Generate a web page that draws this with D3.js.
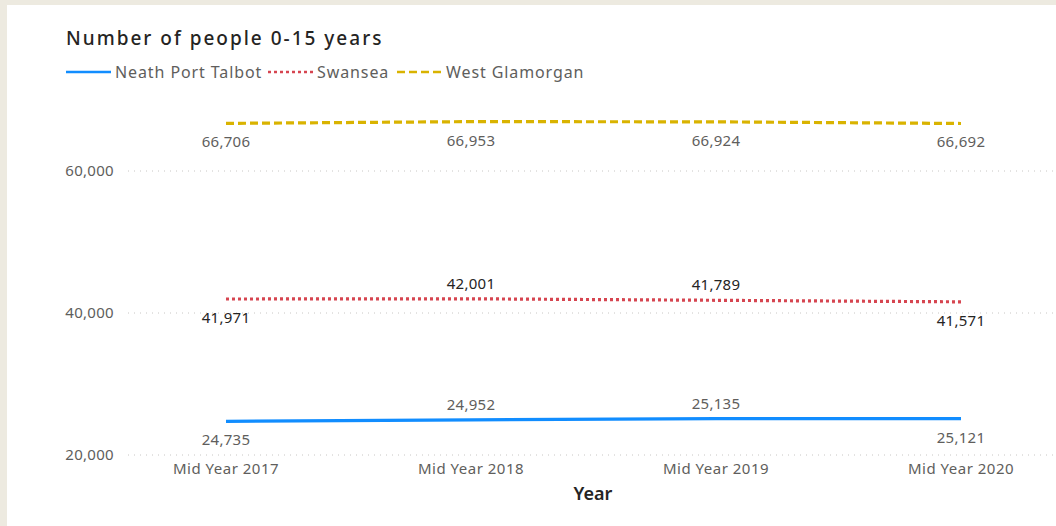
<!DOCTYPE html>
<html lang="en">
<head>
  <meta charset="utf-8">
  <title>Number of people 0-15 years</title>
  <script src="https://d3js.org/d3.v7.min.js"></script>
</head>
<style>
  body { margin: 0; background: #edeae0; }
  .card { position: absolute; left: 7px; top: 5px; width: 1049px; height: 521px; background: #fff; }
  svg { position: absolute; left: 0; top: 0; }
  text { font-family: "Noto Sans", sans-serif; }
</style>
<body>
  <div class="card"></div>
  <div class="chart"></div>
</body>
<script>
var years = ["Mid Year 2017", "Mid Year 2018", "Mid Year 2019", "Mid Year 2020"];
var neath = [24735, 24952, 25135, 25121];
var swansea = [41971, 42001, 41789, 41571];
var westGlam = [66706, 66953, 66924, 66692];
var yTicks = [20000, 40000, 60000];

// label above (-1) or below (+1) the point
var neathPos = [1, -1, -1, 1];
var swanseaPos = [1, -1, -1, 1];
var westGlamPos = [1, 1, 1, 1];

var series = [
  { name: "Neath Port Talbot", values: neath, pos: neathPos, color: "#118DFF", dash: null, labelColor: "#605e5c" },
  { name: "Swansea", values: swansea, pos: swanseaPos, color: "#D64550", dash: "3,3", labelColor: "#252423" },
  { name: "West Glamorgan", values: westGlam, pos: westGlamPos, color: "#D9B300", dash: "8,4", labelColor: "#605e5c" }
];

var W = 1056, H = 526;
var svg = d3.select(".chart").append("svg")
  .attr("width", W)
  .attr("height", H);

var x = d3.scalePoint().domain(years).range([226, 961]);
var y = d3.scaleLinear().domain([20000, 60000]).range([455, 171]);

// title
svg.append("text")
  .attr("x", 66)
  .attr("y", 45)
  .attr("fill", "#252423")
  .style("font-size", "19px")
  .style("font-weight", 500)
  .style("letter-spacing", "2px")
  .text("Number of people 0-15 years");

// legend
var legendX = [66, 268, 397];
var legend = svg.selectAll(".legend")
  .data(series)
  .enter().append("g")
  .attr("class", "legend")
  .attr("transform", function(d, i) { return "translate(" + legendX[i] + ",72)"; });

legend.append("line")
  .attr("x1", 0).attr("x2", 45)
  .attr("stroke", function(d) { return d.color; })
  .attr("stroke-width", 2.5)
  .attr("stroke-dasharray", function(d) { return d.dash; });

legend.append("text")
  .attr("x", 49)
  .attr("dy", "0.35em")
  .attr("fill", "#605e5c")
  .style("font-size", "16px")
  .style("letter-spacing", "0.9px")
  .text(function(d) { return d.name; });

// gridlines + y axis labels
svg.selectAll(".grid")
  .data(yTicks)
  .enter().append("line")
  .attr("class", "grid")
  .attr("x1", 128).attr("x2", 1054)
  .attr("y1", function(d) { return y(d); })
  .attr("y2", function(d) { return y(d); })
  .attr("stroke", "#c8c6c4")
  .attr("stroke-width", 1)
  .attr("stroke-dasharray", "1,5");

svg.selectAll(".ylab")
  .data(yTicks)
  .enter().append("text")
  .attr("class", "ylab")
  .attr("x", 114)
  .attr("y", function(d) { return y(d); })
  .attr("dy", "0.35em")
  .attr("text-anchor", "end")
  .attr("fill", "#605e5c")
  .style("font-size", "15px")
  .style("letter-spacing", "0.3px")
  .text(d3.format(","));

// x axis labels
svg.selectAll(".xlab")
  .data(years)
  .enter().append("text")
  .attr("class", "xlab")
  .attr("x", function(d) { return x(d); })
  .attr("y", 474)
  .attr("text-anchor", "middle")
  .attr("fill", "#605e5c")
  .style("font-size", "15px")
  .style("letter-spacing", "0.5px")
  .text(function(d) { return d; });

svg.append("text")
  .attr("x", 593)
  .attr("y", 500)
  .attr("text-anchor", "middle")
  .attr("fill", "#252423")
  .style("font-size", "18px")
  .style("font-weight", 600)
  .text("Year");

// lines
var line = d3.line()
  .x(function(d, i) { return x(years[i]); })
  .y(function(d) { return y(d); });

svg.selectAll(".series")
  .data(series)
  .enter().append("path")
  .attr("class", "series")
  .attr("d", function(d) { return line(d.values); })
  .attr("fill", "none")
  .attr("stroke", function(d) { return d.color; })
  .attr("stroke-width", 3.2)
  .attr("stroke-dasharray", function(d) { return d.dash; });

// data labels
series.forEach(function(s) {
  svg.selectAll(null)
    .data(s.values)
    .enter().append("text")
    .attr("x", function(d, i) { return x(years[i]); })
    .attr("y", function(d, i) { return y(d) + (s.pos[i] > 0 ? 24 : -10); })
    .attr("text-anchor", "middle")
    .attr("fill", s.labelColor)
    .style("font-size", "15px")
    .style("letter-spacing", "0.3px")
    .text(function(d) { return d3.format(",")(d); });
});
</script>
</html>
